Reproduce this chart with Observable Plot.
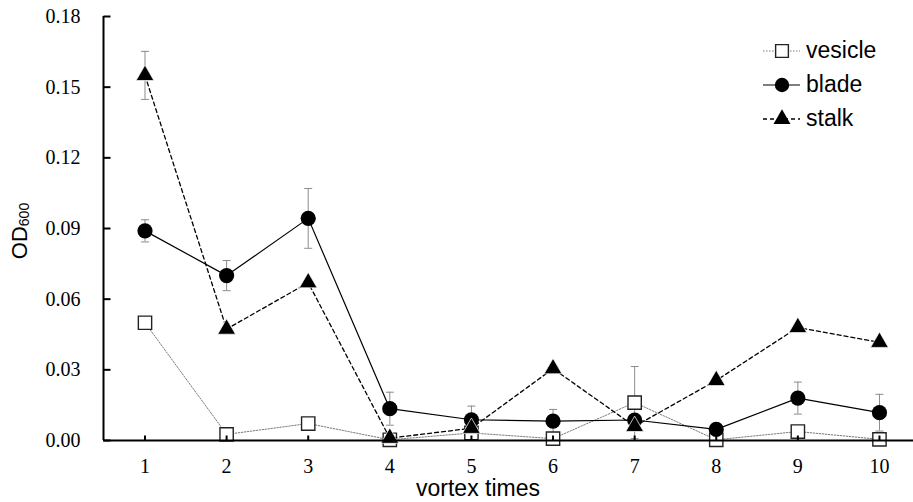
<!DOCTYPE html>
<html><head><meta charset="utf-8">
<script src="https://cdn.jsdelivr.net/npm/d3@7"></script>
<script src="https://cdn.jsdelivr.net/npm/@observablehq/plot@0.6"></script>
<style>html,body{margin:0;padding:0;background:#fff} svg{display:block}</style>
</head><body><div id="chart"></div>
<script>
// ---- data ----
const vortexTimes = [1, 2, 3, 4, 5, 6, 7, 8, 9, 10];
const seriesNames = ["vesicle", "blade", "stalk"];
const vesicle    = [0.0500, 0.0026, 0.0072, 0.0003, 0.0032, 0.0008, 0.0161, 0.0003, 0.0038, 0.0005];
const vesicleErr = [0, 0, 0, 0, 0, 0, 0.0153, 0, 0, 0];
const blade      = [0.0890, 0.0700, 0.0943, 0.0135, 0.0088, 0.0082, 0.0087, 0.0047, 0.0180, 0.0118];
const bladeErr   = [0.0047, 0.0064, 0.0127, 0.0070, 0.0058, 0.0050, 0, 0, 0.0068, 0.0078];
const stalk      = [0.1550, 0.0473, 0.0670, 0.0010, 0.0052, 0.0305, 0.0060, 0.0255, 0.0480, 0.0417];
const stalkErr   = [0.0102, 0, 0, 0, 0, 0, 0, 0, 0, 0];
const yTicks = [0, 0.03, 0.06, 0.09, 0.12, 0.15, 0.18];

const rowsOf = (name, vals, errs) => vortexTimes.map((x, i) => ({series: name, x, y: vals[i], e: errs[i]}));
const vRows = rowsOf("vesicle", vesicle, vesicleErr);
const bRows = rowsOf("blade", blade, bladeErr);
const sRows = rowsOf("stalk", stalk, stalkErr);
const errRows = [...vRows, ...bRows, ...sRows].filter(d => d.e > 0);

// ---- custom symbols ----
const capSym = {draw(ctx) { ctx.moveTo(-4, 0); ctx.lineTo(4, 0); }};
const yTickSym = {draw(ctx) { ctx.moveTo(0, 0); ctx.lineTo(7, 0); }};
const xTickSym = {draw(ctx) { ctx.moveTo(0, 0); ctx.lineTo(0, -5); }};

const xDomain = [0.4915, 10.417];
const errColor = "#8c8c8c";

const plot = Plot.plot({
  width: 913, height: 502,
  marginLeft: 103, marginRight: 0, marginTop: 16, marginBottom: 62,
  style: {fontFamily: "'Liberation Serif', 'Times New Roman', serif", fontSize: "20px", background: "#fff", color: "#000", overflow: "visible"},
  x: {domain: xDomain, axis: null},
  y: {domain: [0, 0.18], axis: null},
  marks: [
    // tick labels
    Plot.axisY(yTicks, {tickSize: 0, tickPadding: 23, tickFormat: d3.format(".2f"), fontSize: 20, label: null}),
    Plot.axisX(vortexTimes, {tickSize: 0, tickPadding: 18, tickFormat: d => String(d), fontSize: 20, label: null}),
    // error bars
    Plot.ruleX(errRows, {x: "x", y1: d => d.y - d.e, y2: d => d.y + d.e, stroke: errColor, strokeWidth: 1}),
    Plot.dot(errRows, {x: "x", y: d => d.y + d.e, symbol: capSym, fill: "none", stroke: errColor, strokeWidth: 1}),
    Plot.dot(errRows, {x: "x", y: d => d.y - d.e, symbol: capSym, fill: "none", stroke: errColor, strokeWidth: 1}),
    // vesicle
    Plot.line(vRows, {x: "x", y: "y", stroke: "#7a7a7a", strokeWidth: 1, strokeDasharray: "1.5,1.5"}),
    Plot.dot(vRows, {x: "x", y: "y", symbol: "square", r: 7.5, fill: "#fff", stroke: "#222", strokeWidth: 1.4}),
    // blade
    Plot.line(bRows, {x: "x", y: "y", stroke: "#000", strokeWidth: 1.2}),
    Plot.dot(bRows, {x: "x", y: "y", symbol: "circle", r: 7.6, fill: "#000", stroke: "none"}),
    // stalk
    Plot.line(sRows, {x: "x", y: "y", stroke: "#000", strokeWidth: 1.3, strokeDasharray: "4,3"}),
    Plot.dot(sRows, {x: "x", y: "y", symbol: "triangle", r: 6.6, fill: "#000", stroke: "#fff", strokeWidth: 0.7}),
    // axes lines and inward ticks
    Plot.ruleY([0], {stroke: "#000", strokeWidth: 2}),
    Plot.ruleX([xDomain[0]], {y1: 0, y2: 0.18, stroke: "#000", strokeWidth: 2}),
    Plot.dot(yTicks, {y: d => d, frameAnchor: "left", symbol: yTickSym, fill: "none", stroke: "#000", strokeWidth: 2}),
    Plot.dot(vortexTimes, {x: d => d, frameAnchor: "bottom", symbol: xTickSym, fill: "none", stroke: "#000", strokeWidth: 2})
  ]
});
document.getElementById("chart").appendChild(plot);

// ---- axis titles and legend ----
const svg = d3.select(plot);
const sans = "'Liberation Sans', Arial, sans-serif";
svg.append("text").attr("x", 478).attr("y", 496).attr("text-anchor", "middle")
  .attr("font-family", sans).attr("font-size", 23).attr("fill", "#000").text("vortex times");
const yl = svg.append("text").attr("transform", "translate(27,231) rotate(-90)").attr("text-anchor", "middle")
  .attr("font-family", sans).attr("font-size", 22).attr("fill", "#000");
yl.append("tspan").text("OD");
yl.append("tspan").attr("font-size", 14).attr("dy", 2).text("600");

const legendStyles = {
  vesicle: {stroke: "#7a7a7a", width: 1, dash: "1.5,1.5", sym: d3.symbolSquare, r: 7.2, fill: "#fff", mstroke: "#222", msw: 1.4},
  blade:   {stroke: "#000", width: 1.2, dash: null, sym: d3.symbolCircle, r: 7.2, fill: "#000", mstroke: "none", msw: 0},
  stalk:   {stroke: "#000", width: 1.3, dash: "4,3", sym: d3.symbolTriangle, r: 6.3, fill: "#000", mstroke: "none", msw: 0}
};
const lg = svg.append("g").attr("text-anchor", "start");
seriesNames.forEach((name, i) => {
  const s = legendStyles[name];
  const cy = 51 + 34 * i;
  lg.append("line").attr("x1", 763).attr("x2", 800).attr("y1", cy).attr("y2", cy)
    .attr("stroke", s.stroke).attr("stroke-width", s.width).attr("stroke-dasharray", s.dash);
  lg.append("path").attr("transform", `translate(782,${cy})`)
    .attr("d", d3.symbol(s.sym, Math.PI * s.r * s.r)())
    .attr("fill", s.fill).attr("stroke", s.mstroke).attr("stroke-width", s.msw);
  lg.append("text").attr("x", 806).attr("y", cy + 6.5).attr("text-anchor", "start")
    .attr("font-family", sans).attr("font-size", 23).attr("fill", "#000").text(name);
});
</script>
</body></html>
